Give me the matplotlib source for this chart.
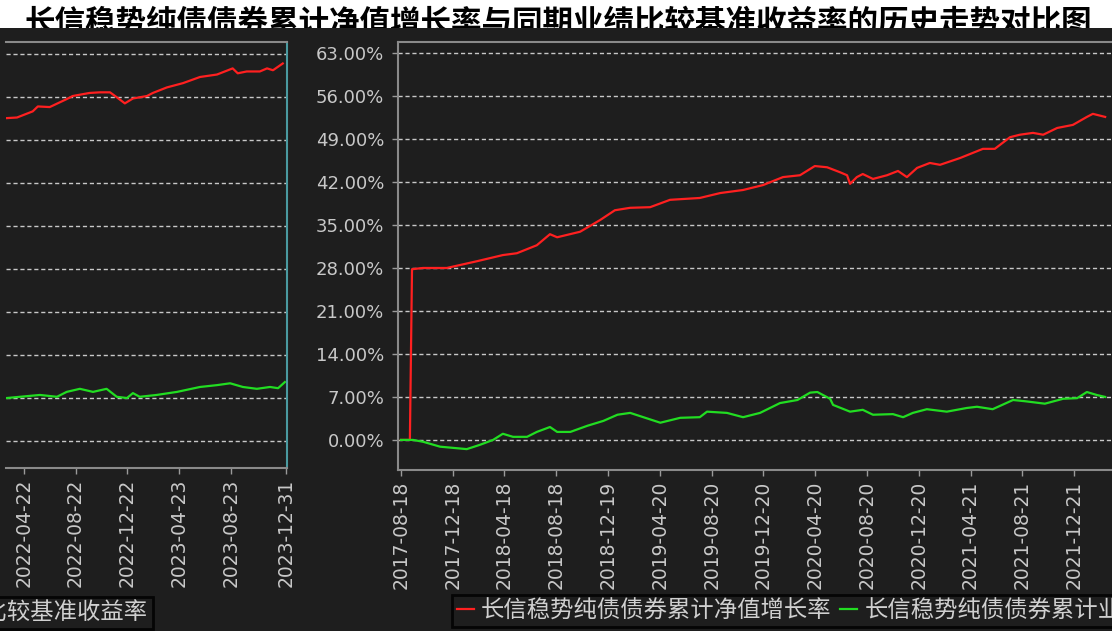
import matplotlib
matplotlib.use("Agg")
import matplotlib.pyplot as plt
from matplotlib.patches import Rectangle
from matplotlib.transforms import Bbox, TransformedBbox
import pandas as pd

plt.rcParams['font.family'] = ['Noto Sans CJK SC', 'DejaVu Sans']

title = '长信稳势纯债债券累计净值增长率与同期业绩比较基准收益率的历史走势对比图'
fund_label = '长信稳势纯债债券累计净值增长率'
bench_label = '长信稳势纯债债券累计业绩比较基准收益率'

# right panel (2017-08 .. 2022-03)
nav_dates_a = ['2017-08-18', '2017-09-08', '2017-09-13', '2017-10-09', '2017-12-04',
               '2018-02-13', '2018-04-15', '2018-05-18', '2018-07-04', '2018-08-04',
               '2018-08-21', '2018-10-14', '2018-11-30', '2019-01-04', '2019-02-09',
               '2019-03-28', '2019-05-14', '2019-07-23', '2019-09-09', '2019-11-02',
               '2019-12-19', '2020-02-04', '2020-03-15', '2020-04-19', '2020-05-18',
               '2020-06-17', '2020-07-04', '2020-07-11', '2020-07-27', '2020-08-10',
               '2020-09-03', '2020-10-06', '2020-11-01', '2020-11-22', '2020-12-16',
               '2021-01-15', '2021-02-08', '2021-03-27', '2021-05-20', '2021-06-17',
               '2021-07-23', '2021-08-15', '2021-09-15', '2021-10-09', '2021-11-11',
               '2021-12-18', '2022-01-20', '2022-02-03', '2022-03-04']
nav_a = [0.0, 0.0, 27.8, 28.0, 28.0,
         29.1, 30.1, 30.4, 31.7, 33.5,
         33.0, 33.9, 35.8, 37.4, 37.8,
         37.9, 39.1, 39.4, 40.2, 40.7,
         41.5, 42.8, 43.1, 44.6, 44.4,
         43.6, 43.1, 41.7, 42.8, 43.3,
         42.5, 43.1, 43.8, 42.8, 44.3,
         45.1, 44.8, 45.9, 47.4, 47.4,
         49.3, 49.7, 50.0, 49.7, 50.8,
         51.3, 52.6, 53.1, 52.6]

bench_dates_a = ['2017-08-18', '2017-09-15', '2017-10-09', '2017-11-18', '2018-01-20',
                 '2018-02-20', '2018-03-23', '2018-04-15', '2018-05-09', '2018-06-11',
                 '2018-07-04', '2018-08-04', '2018-08-21', '2018-09-21', '2018-10-31',
                 '2018-12-08', '2019-01-10', '2019-02-09', '2019-03-12', '2019-04-21',
                 '2019-06-07', '2019-07-23', '2019-08-09', '2019-09-25', '2019-11-02',
                 '2019-12-12', '2020-01-28', '2020-03-09', '2020-04-08', '2020-04-25',
                 '2020-05-25', '2020-06-01', '2020-07-11', '2020-08-10', '2020-09-03',
                 '2020-10-20', '2020-11-13', '2020-12-06', '2021-01-08', '2021-02-24',
                 '2021-04-12', '2021-05-06', '2021-06-12', '2021-07-30', '2021-08-27',
                 '2021-10-13', '2021-11-25', '2021-12-28', '2022-01-20', '2022-02-13',
                 '2022-03-04']
bench_a = [0.0, 0.0, -0.3, -1.1, -1.5,
           -0.8, 0.0, 1.0, 0.5, 0.5,
           1.3, 2.1, 1.3, 1.3, 2.3,
           3.1, 4.1, 4.4, 3.7, 2.8,
           3.6, 3.7, 4.6, 4.4, 3.7,
           4.4, 6.0, 6.5, 7.7, 7.8,
           6.7, 5.7, 4.6, 4.9, 4.1,
           4.2, 3.7, 4.4, 5.0, 4.6,
           5.2, 5.4, 5.0, 6.5, 6.3,
           5.9, 6.7, 6.8, 7.8, 7.3,
           7.0]

# left panel (2022-03 .. 2023-12)
nav_dates_b = ['2022-03-13', '2022-04-06', '2022-05-13', '2022-05-25', '2022-06-22',
               '2022-08-01', '2022-08-15', '2022-09-24', '2022-10-18', '2022-11-11',
               '2022-11-27', '2022-12-16', '2023-01-04', '2023-02-06', '2023-02-20',
               '2023-03-25', '2023-05-02', '2023-06-11', '2023-07-21', '2023-08-27',
               '2023-09-08', '2023-09-29', '2023-10-30', '2023-11-16', '2023-11-30',
               '2023-12-23']
nav_b = [52.6, 52.7, 53.7, 54.5, 54.4,
         55.7, 56.2, 56.7, 56.8, 56.8,
         56.0, 55.0, 55.8, 56.2, 56.7,
         57.6, 58.3, 59.3, 59.7, 60.7,
         59.9, 60.2, 60.2, 60.7, 60.4,
         61.5]

bench_dates_b = ['2022-03-13', '2022-04-13', '2022-05-30', '2022-07-09', '2022-08-01',
                 '2022-09-01', '2022-10-02', '2022-11-03', '2022-11-27', '2022-12-21',
                 '2023-01-04', '2023-01-20', '2023-03-01', '2023-04-18', '2023-06-11',
                 '2023-07-21', '2023-08-21', '2023-09-20', '2023-10-23', '2023-11-23',
                 '2023-12-12', '2023-12-28']
bench_b = [7.0, 7.2, 7.5, 7.2, 8.0,
           8.5, 8.0, 8.5, 7.2, 7.0,
           7.8, 7.2, 7.5, 8.0, 8.8,
           9.1, 9.4, 8.8, 8.5, 8.8,
           8.6, 9.6]

ticks_a = ['2017-08-18', '2017-12-18', '2018-04-18', '2018-08-18', '2018-12-19',
           '2019-04-20', '2019-08-20', '2019-12-20', '2020-04-20', '2020-08-20',
           '2020-12-20', '2021-04-21', '2021-08-21', '2021-12-21']
ticks_b = ['2022-04-22', '2022-08-22', '2022-12-22', '2023-04-23', '2023-08-23', '2023-12-31']
yticks = [0, 7, 14, 21, 28, 35, 42, 49, 56, 63]

BG = '#1e1e1e'
TXT = '#c8c8c8'
W, H = 1112, 631

fig = plt.figure(figsize=(W / 100, H / 100), dpi=100, facecolor=BG)

# white strip with the (cut) title
fig.patches.append(Rectangle((0, 1 - 28 / H), 1, 28 / H, transform=fig.transFigure,
                             facecolor='white', edgecolor='none', zorder=0))
t = fig.text(558 / W, 1 - 22 / H, title, ha='center', va='center', fontsize=22,
             fontweight='bold', color='black')
t.set_clip_box(TransformedBbox(Bbox([[0, 1 - 28 / H], [1, 1]]), fig.transFigure))
t.set_clip_on(True)


def px_axes(x0, x1, y0, y1):
    return fig.add_axes([x0 / W, 1 - y1 / H, (x1 - x0) / W, (y1 - y0) / H])


def style(ax):
    ax.set_facecolor(BG)
    ax.set_yticks(yticks)
    ax.yaxis.grid(True, color=TXT, linestyle=(0, (3, 2)), linewidth=1)
    ax.set_axisbelow(True)
    ax.tick_params(colors='#9a9a9a', labelcolor=TXT, length=4, width=1)
    for s in ax.spines.values():
        s.set_color('#8a8a8a')
        s.set_linewidth(1.5)


ax_b = px_axes(6, 287, 42, 468)
ax_a = px_axes(398, 1120, 42, 470)

# left panel
style(ax_b)
ax_b.plot(pd.to_datetime(nav_dates_b), nav_b, color='#ff2020', lw=1.6)
ax_b.plot(pd.to_datetime(bench_dates_b), bench_b, color='#22dd22', lw=1.6)
ax_b.set_xlim(pd.Timestamp('2022-03-11'), pd.Timestamp('2024-01-02'))
ax_b.set_ylim(-4.4, 65.0)
ax_b.spines['left'].set_visible(False)
ax_b.spines['right'].set_color('#4a9aa0')
ax_b.tick_params(axis='y', left=False, labelleft=False)
ax_b.set_xticks(pd.to_datetime(ticks_b))
ax_b.set_xticklabels(ticks_b, rotation=90, fontsize=13.5, family='DejaVu Sans')

# right panel
style(ax_a)
l1, = ax_a.plot(pd.to_datetime(nav_dates_a), nav_a, color='#ff2020', lw=1.6)
l2, = ax_a.plot(pd.to_datetime(bench_dates_a), bench_a, color='#22dd22', lw=1.6)
ax_a.set_xlim(pd.Timestamp('2017-08-11'), pd.Timestamp('2022-04-08'))
ax_a.set_ylim(-4.9, 64.8)
ax_a.spines['right'].set_visible(False)
ax_a.set_xticks(pd.to_datetime(ticks_a))
ax_a.set_xticklabels(ticks_a, rotation=90, fontsize=13.5, family='DejaVu Sans')
ax_a.set_yticklabels(['%.2f%%' % v for v in yticks], fontsize=13, family='DejaVu Sans')
ax_a.tick_params(axis='y', pad=6)

leg_kw = dict(ncol=2, fontsize=16.8, frameon=True, facecolor=BG, edgecolor='#050505',
              labelcolor='#d0d0d0', handlelength=0.75, handletextpad=0.3,
              columnspacing=0.35, borderpad=0.2, borderaxespad=0, fancybox=False)
lg1 = fig.legend([l1, l2], [fund_label, bench_label], loc='lower left',
                 bbox_to_anchor=(452 / W, 4 / H), **leg_kw)
lg2 = fig.legend([l1, l2], [fund_label, bench_label], loc='lower right',
                 bbox_to_anchor=(153 / W, 2 / H), **leg_kw)
for lg in (lg1, lg2):
    lg.get_frame().set_linewidth(2)
    lg.get_frame().set_alpha(1)

fig.savefig('out.png', dpi=100, facecolor=BG)
